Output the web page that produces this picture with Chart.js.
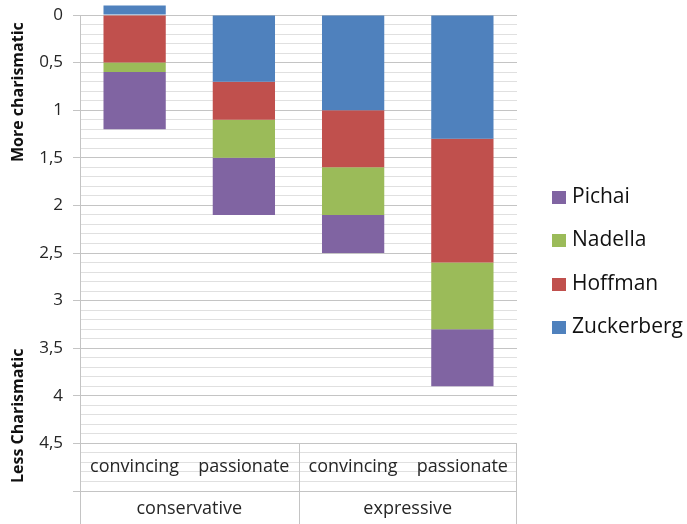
<!DOCTYPE html>
<html>
<head>
<meta charset="utf-8">
<script src="https://cdn.jsdelivr.net/npm/chart.js@4.4.1/dist/chart.umd.min.js"></script>
<style>
  html, body { margin: 0; padding: 0; background: #fff; }
  #wrap { width: 687px; height: 524px; }
</style>
</head>
<body>
<div id="wrap"><canvas id="chart"></canvas></div>
<script>
// categories: speaking style inside each delivery group
const styles = ['convincing', 'passionate', 'convincing', 'passionate'];
const groups = ['conservative', 'expressive'];
const groupSize = 2;

// series values (stacked, axis reversed: 0 = more charismatic)
const zuckerberg = [-0.1, 0.7, 1.0, 1.3];
const hoffman = [0.5, 0.4, 0.6, 1.3];
const nadella = [0.1, 0.4, 0.5, 0.7];
const pichai = [0.6, 0.6, 0.4, 0.6];

// value axis
const yMin = 0;
const yMax = 5;
const yStep = 0.1;
const labeledTicks = [0, 0.5, 1, 1.5, 2, 2.5, 3, 3.5, 4, 4.5];
const tableTop = 4.5;

const font = "'Open Sans', 'DejaVu Sans', sans-serif";
const gridMajor = '#c4c4c4';
const gridMinor = '#e0e0e0';
const textColor = '#262626';

const isMajor = v => Math.abs(v * 2 - Math.round(v * 2)) < 1e-6;
const isLabeled = v => labeledTicks.some(t => Math.abs(t - v) < 1e-6);

// axis titles on the left and the two-row category table under the bars
const sideDecor = {
  id: 'sideDecor',
  afterDraw(chart) {
    const { ctx, chartArea: a, scales: { x, y } } = chart;
    const bottom = chart.height;
    const half = (a.right - a.left) / styles.length / 2;
    const top = y.getPixelForValue(tableTop);
    const mid = y.getPixelForValue(yMax);

    ctx.save();
    ctx.strokeStyle = gridMajor;
    ctx.lineWidth = 1;
    ctx.beginPath();
    // outer frame + group separators
    ctx.moveTo(a.left + 0.5, mid); ctx.lineTo(a.left + 0.5, bottom);
    ctx.moveTo(a.right - 0.5, top); ctx.lineTo(a.right - 0.5, bottom);
    for (let g = 1; g < groups.length; g++) {
      const gx = Math.round(x.getPixelForValue(g * groupSize) - half) + 0.5;
      ctx.moveTo(gx, top); ctx.lineTo(gx, bottom);
    }
    ctx.moveTo(a.left, Math.round(top) + 0.5); ctx.lineTo(a.right, Math.round(top) + 0.5);
    ctx.stroke();

    ctx.fillStyle = textColor;
    ctx.font = '18px ' + font;
    ctx.textAlign = 'center';
    ctx.textBaseline = 'middle';
    styles.forEach((s, i) => {
      ctx.fillText(s, x.getPixelForValue(i), (top + mid) / 2);
    });
    groups.forEach((g, i) => {
      const first = x.getPixelForValue(i * groupSize);
      const last = x.getPixelForValue(i * groupSize + groupSize - 1);
      ctx.fillText(g, (first + last) / 2, (mid + bottom) / 2 + 1);
    });

    // rotated axis titles
    ctx.fillStyle = '#111';
    ctx.font = 'bold 16px ' + font;
    const drawRotated = (text, cy) => {
      ctx.save();
      ctx.translate(18, cy);
      ctx.rotate(-Math.PI / 2);
      ctx.fillText(text, 0, 0);
      ctx.restore();
    };
    drawRotated('More charismatic', y.getPixelForValue(0.81));
    drawRotated('Less Charismatic', y.getPixelForValue(4.21));

    // legend, last series first
    const items = chart.data.datasets.slice().reverse();
    ctx.font = '21px ' + font;
    ctx.textAlign = 'left';
    items.forEach((ds, i) => {
      const cy = 197 + i * 43.5;
      ctx.fillStyle = ds.backgroundColor;
      ctx.fillRect(552, Math.round(cy - 6.5), 14, 13);
      ctx.fillStyle = '#111';
      ctx.fillText(ds.label, 572, cy);
    });
    ctx.restore();
  }
};

new Chart(document.getElementById('chart'), {
  type: 'bar',
  data: {
    labels: styles,
    datasets: [
      { label: 'Zuckerberg', data: zuckerberg, backgroundColor: '#4f81bd' },
      { label: 'Hoffman', data: hoffman, backgroundColor: '#c0504d' },
      { label: 'Nadella', data: nadella, backgroundColor: '#9bbb59' },
      { label: 'Pichai', data: pichai, backgroundColor: '#8064a2' }
    ]
  },
  options: {
    responsive: true,
    maintainAspectRatio: false,
    animation: false,
    clip: false,
    barPercentage: 0.57,
    categoryPercentage: 1,
    layout: { padding: { top: 15, bottom: 33, left: 0, right: 170 } },
    plugins: {
      tooltip: { enabled: false },
      legend: { display: false }
    },
    scales: {
      x: {
        stacked: true,
        display: false
      },
      y: {
        stacked: true,
        reverse: true,
        min: yMin,
        max: yMax,
        afterFit: axis => {
          axis.width = 80;
          axis.paddingTop = 0;
          axis.paddingBottom = 0;
        },
        border: { color: gridMajor },
        grid: {
          color: ctx => isMajor(ctx.tick.value) ? gridMajor : gridMinor,
          tickColor: ctx => isMajor(ctx.tick.value) ? gridMajor : 'rgba(0,0,0,0)',
          tickLength: 7
        },
        ticks: {
          stepSize: yStep,
          maxTicksLimit: 100,
          autoSkip: false,
          padding: 10,
          color: textColor,
          font: { family: font, size: 17 },
          callback: v => isLabeled(v) ? String(Math.round(v * 10) / 10).replace('.', ',') : ''
        }
      }
    }
  },
  plugins: [sideDecor]
});
</script>
</body>
</html>
